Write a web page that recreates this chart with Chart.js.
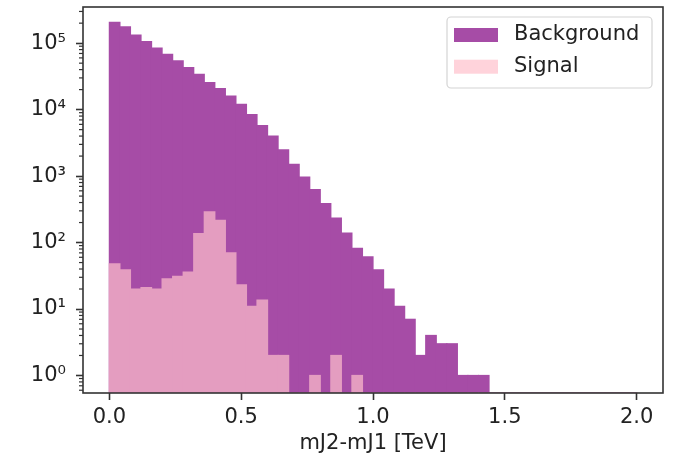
<!DOCTYPE html>
<html>
<head>
<meta charset="utf-8">
<script src="https://cdn.jsdelivr.net/npm/chart.js@4"></script>
<style>
  html, body { margin: 0; padding: 0; background: #fff; }
  #wrap { width: 677px; height: 463px; }
</style>
</head>
<body>
<div id="wrap"><canvas id="histChart"></canvas></div>
<script>
// Histogram of mJ2-mJ1, 50 bins of 0.04 TeV from 0 to 2 TeV
const binWidth = 0.04;
const background = [
  205000, 176000, 132000, 106000, 84000, 67600, 54000, 43000, 34000, 25500,
  20700, 16000, 12000, 8400, 5740, 4000, 2490, 1500, 962, 628,
  386, 233, 139, 82, 61, 39, 20, 11, 7, 2,
  4, 3, 3, 1, 1, 1, 0, 0, 0, 0,
  0, 0, 0, 0, 0, 0, 0, 0, 0, 0,
];
const signal = [
  48, 39, 20, 21, 20, 28.5, 31, 36, 136, 289,
  216, 70, 23, 11, 13.6, 2, 2, 0, 0, 1,
  0, 2, 0, 1, 0, 0, 0, 0, 0, 0,
  0, 0, 0, 0, 0, 0, 0, 0, 0, 0,
  0, 0, 0, 0, 0, 0, 0, 0, 0, 0,
];

const xTickValues = [0, 0.5, 1, 1.5, 2];
const xTickLabels = ["0.0", "0.5", "1.0", "1.5", "2.0"];
const yTickValues = [1, 10, 100, 1000, 10000, 100000];
const yTickLabels = ["10\u2070", "10\u00b9", "10\u00b2", "10\u00b3", "10\u2074", "10\u2075"];

const binCenters = background.map((_, i) => (i + 0.5) * binWidth);

// matplotlib 'purple' / 'pink' at alpha 0.7, pre-blended so adjacent bars don't leave seams
const purpleFill = "#a64ca6";
const pinkOnPurple = "#e49dc0";
const pinkOnWhite = "#ffd3db";
const inkColor = "#222";
const axisColor = "#333";

Chart.defaults.font.family = "'DejaVu Sans', sans-serif";
Chart.defaults.font.size = 21;

// frame, minor log ticks and the boxed legend
const framePlugin = {
  id: "frame",
  afterDatasetsDraw(chart) {
    const { ctx, chartArea: a, scales } = chart;
    const y = scales.y;
    ctx.save();

    ctx.strokeStyle = axisColor;
    ctx.lineWidth = 1.2;
    for (let e = -1; e <= 5; e++) {
      for (let k = 2; k <= 9; k++) {
        const v = k * Math.pow(10, e);
        if (v < y.min || v > y.max) continue;
        const py = y.getPixelForValue(v);
        ctx.beginPath();
        ctx.moveTo(a.left - 4, py);
        ctx.lineTo(a.left, py);
        ctx.stroke();
      }
    }

    ctx.lineWidth = 1.6;
    ctx.strokeRect(a.left, a.top, a.right - a.left, a.bottom - a.top);

    const boxW = 205;
    const boxH = 71;
    const bx = a.right - 11 - boxW;
    const by = a.top + 10;
    ctx.beginPath();
    ctx.roundRect(bx, by, boxW, boxH, 4);
    ctx.fillStyle = "rgba(255,255,255,0.8)";
    ctx.fill();
    ctx.strokeStyle = "#d4d4d4";
    ctx.lineWidth = 1.2;
    ctx.stroke();

    ctx.font = "21px 'DejaVu Sans'";
    ctx.textAlign = "left";
    ctx.textBaseline = "middle";
    chart.data.datasets.forEach((ds, i) => {
      const cy = by + 18 + i * 31.7;
      ctx.fillStyle = ds.legendColor;
      ctx.fillRect(bx + 7, cy - 7, 44, 14);
      ctx.fillStyle = inkColor;
      ctx.fillText(ds.label, bx + 67, cy);
    });

    ctx.restore();
  },
};

new Chart(document.getElementById("histChart"), {
  type: "bar",
  data: {
    datasets: [
      {
        label: "Background",
        data: background.map((v, i) => ({ x: binCenters[i], y: v })),
        backgroundColor: purpleFill,
        legendColor: purpleFill,
        order: 2,
      },
      {
        label: "Signal",
        data: signal.map((v, i) => ({ x: binCenters[i], y: v })),
        backgroundColor: pinkOnPurple,
        legendColor: pinkOnWhite,
        order: 1,
      },
    ],
  },
  options: {
    responsive: true,
    maintainAspectRatio: false,
    animation: false,
    layout: { padding: { top: 7, right: 14, bottom: 0, left: 0 } },
    datasets: {
      bar: {
        grouped: false,
        barPercentage: 1,
        categoryPercentage: 1,
        borderWidth: 0,
        inflateAmount: 0.6,
      },
    },
    plugins: {
      legend: { display: false },
      tooltip: { enabled: false },
    },
    scales: {
      x: {
        type: "linear",
        min: -0.1,
        max: 2.1,
        offset: false,
        grid: {
          offset: false,
          drawOnChartArea: false,
          tickLength: 7,
          tickWidth: 1.6,
          tickColor: axisColor,
        },
        border: { display: false },
        ticks: {
          padding: 5,
          color: inkColor,
          maxRotation: 0,
          autoSkip: false,
          callback: (v, i) => xTickLabels[i],
        },
        title: {
          display: true,
          text: "mJ2-mJ1 [TeV]",
          color: inkColor,
          padding: { top: 0, bottom: 7 },
        },
        afterBuildTicks: (s) => {
          s.ticks = xTickValues.map((v) => ({ value: v }));
        },
        afterFit: (s) => {
          s.height = 70;
          s.paddingLeft = 0;
          s.paddingRight = 0;
        },
      },
      y: {
        type: "logarithmic",
        min: 0.545,
        max: 350000,
        grid: {
          drawOnChartArea: false,
          tickLength: 7,
          tickWidth: 1.6,
          tickColor: axisColor,
        },
        border: { display: false },
        ticks: {
          padding: 10,
          color: inkColor,
          autoSkip: false,
          callback: (v, i) => yTickLabels[i],
        },
        afterBuildTicks: (s) => {
          s.ticks = yTickValues.map((v) => ({ value: v, major: true }));
        },
        afterFit: (s) => {
          s.width = 83;
          s.paddingTop = 0;
          s.paddingBottom = 0;
        },
      },
    },
  },
  plugins: [framePlugin],
});
</script>
</body>
</html>
